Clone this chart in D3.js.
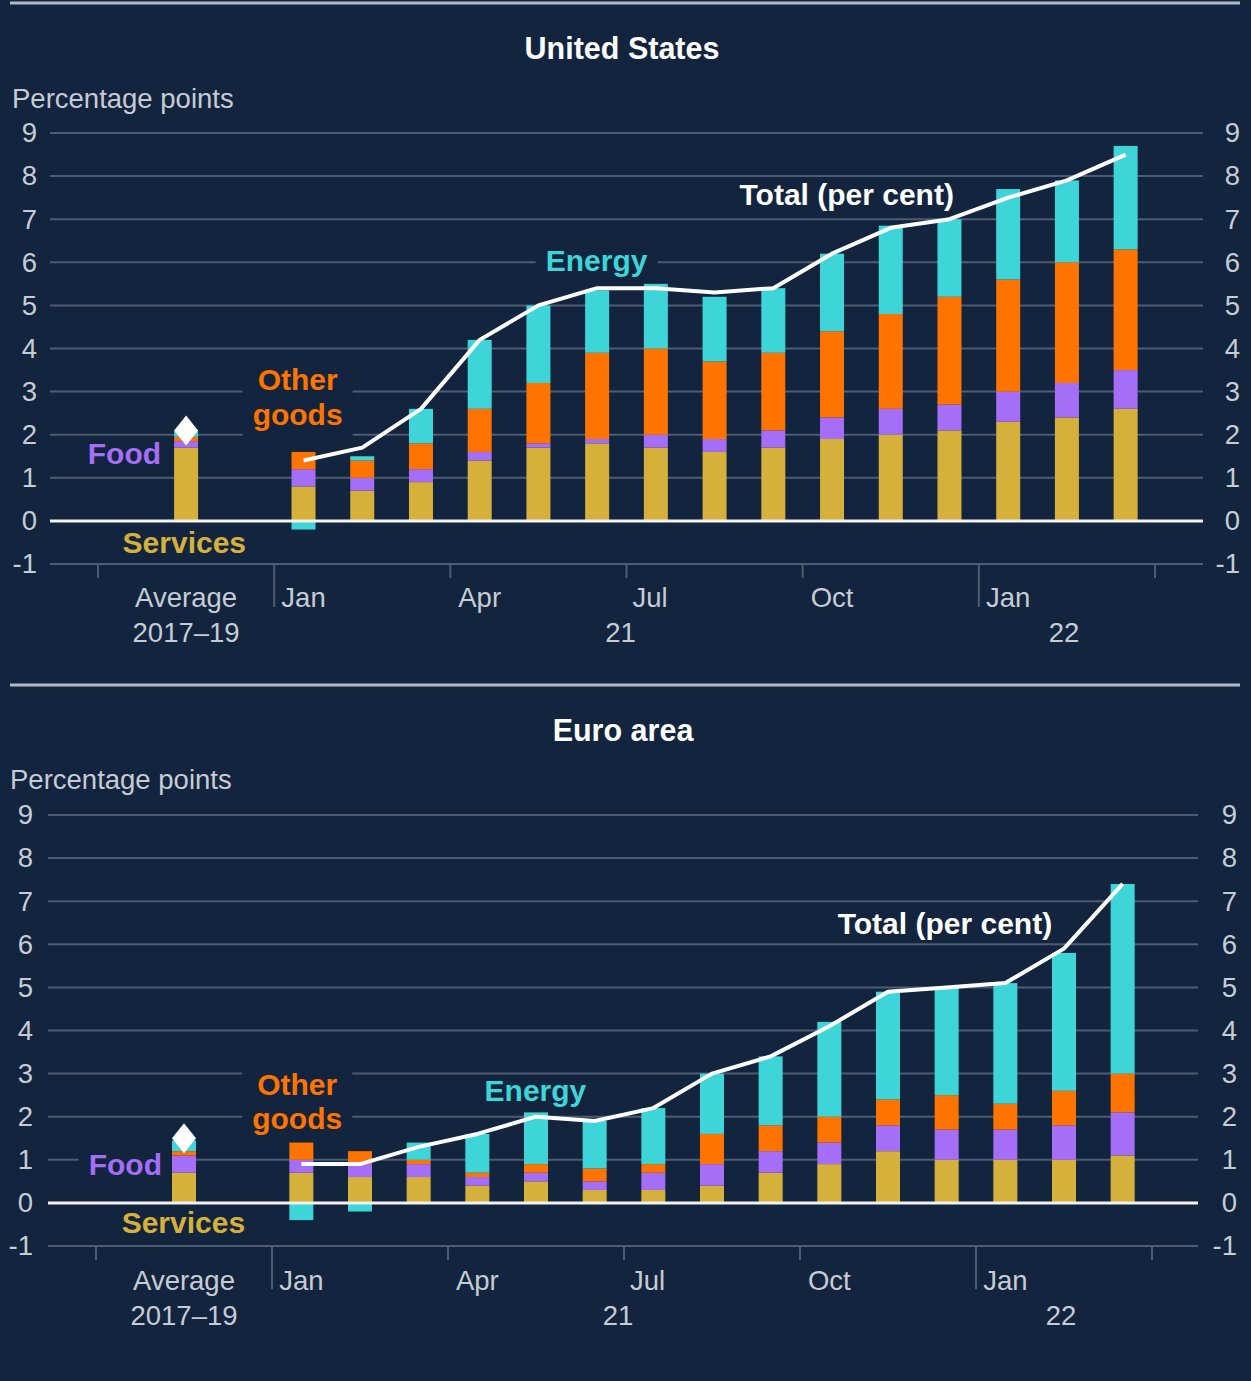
<!DOCTYPE html>
<html>
<head>
<meta charset="utf-8">
<script src="https://cdn.jsdelivr.net/npm/d3@7"></script>
<style>
  body { margin: 0; background: #13243e; }
  text { font-family: "Liberation Sans", Arial, sans-serif; }
</style>
</head>
<body>
<svg id="chart" width="1251" height="1381"></svg>
<script>
// categories: index 0..14 = Jan 2021 .. Mar 2022, the average bar sits at index -2
var keys = ["services", "food", "other", "energy"];
var months = ["Jan","Feb","Mar","Apr","May","Jun","Jul","Aug","Sep","Oct","Nov","Dec","Jan","Feb","Mar"];
var yTicks = [-1, 0, 1, 2, 3, 4, 5, 6, 7, 8, 9];

// United States (percentage points)
var usServices = [0.8, 0.7, 0.9, 1.4, 1.7, 1.8, 1.7, 1.6, 1.7, 1.9, 2.0, 2.1, 2.3, 2.4, 2.6];
var usFood     = [0.4, 0.3, 0.3, 0.2, 0.1, 0.1, 0.3, 0.3, 0.4, 0.5, 0.6, 0.6, 0.7, 0.8, 0.9];
var usOther    = [0.4, 0.4, 0.6, 1.0, 1.4, 2.0, 2.0, 1.8, 1.8, 2.0, 2.2, 2.5, 2.6, 2.8, 2.8];
var usEnergy   = [-0.2, 0.1, 0.8, 1.6, 1.8, 1.45, 1.5, 1.5, 1.5, 1.8, 2.05, 1.8, 2.1, 1.9, 2.4];
var usTotal    = [1.4, 1.7, 2.6, 4.2, 5.0, 5.4, 5.4, 5.3, 5.4, 6.2, 6.8, 7.0, 7.5, 7.9, 8.5];
var usAvg      = [1.7, 0.15, 0.1, 0.15];
var usAvgTotal = 2.1;

// Euro area (percentage points)
var euServices = [0.7, 0.6, 0.6, 0.4, 0.5, 0.3, 0.3, 0.4, 0.7, 0.9, 1.2, 1.0, 1.0, 1.0, 1.1];
var euFood     = [0.3, 0.3, 0.3, 0.2, 0.2, 0.2, 0.4, 0.5, 0.5, 0.5, 0.6, 0.7, 0.7, 0.8, 1.0];
var euOther    = [0.4, 0.3, 0.1, 0.1, 0.2, 0.3, 0.2, 0.7, 0.6, 0.6, 0.6, 0.8, 0.6, 0.8, 0.9];
var euEnergy   = [-0.4, -0.2, 0.4, 0.9, 1.2, 1.1, 1.3, 1.4, 1.6, 2.2, 2.5, 2.5, 2.8, 3.2, 4.4];
var euTotal    = [0.9, 0.9, 1.3, 1.6, 2.0, 1.9, 2.2, 3.0, 3.4, 4.1, 4.9, 5.0, 5.1, 5.9, 7.4];
var euAvg      = [0.7, 0.4, 0.1, 0.25];
var euAvgTotal = 1.5;

// x axis text
var monthTicks = [{i: 0, t: "Jan"}, {i: 3, t: "Apr"}, {i: 5.9, t: "Jul"}, {i: 9, t: "Oct"}, {i: 12, t: "Jan"}];
var yearLabels = [{i: 5.4, t: "21"}, {i: 12.95, t: "22"}];
var tickMarks = [-3.5, -0.5, 2.5, 5.5, 8.5, 11.5, 14.5];
var longTicks = [-0.5, 11.5];

var colors = {services: "#d5b13b", food: "#a46ef6", other: "#ff7400", energy: "#3dd5d8"};
var gridColor = "#4d5c72";
var axisText = "#c6ccd4";
var axisSize = 27.5;
var bg = "#13243e";

var svg = d3.select("#chart");
svg.append("rect").attr("width", 1251).attr("height", 1381).attr("fill", bg);

function drawPanel(p){
    var g = svg.append("g");
    var x = d3.scaleLinear().domain([-3.5, 14.5]).range(p.xRange);
    var y = d3.scaleLinear().domain([-1, 9]).range(p.yRange);

    // separator on top
    g.append("line")
        .attr("x1", 10).attr("x2", 1240)
        .attr("y1", p.sepY).attr("y2", p.sepY)
        .attr("stroke", "#b2bac4").attr("stroke-width", 3);

    g.append("text")
        .attr("x", p.titleX).attr("y", p.titleY)
        .attr("text-anchor", "middle")
        .attr("fill", "#ffffff").attr("font-weight", "bold").attr("font-size", 30.5)
        .text(p.title);

    g.append("text")
        .attr("x", p.unitX).attr("y", p.unitY)
        .attr("fill", axisText).attr("font-size", axisSize)
        .text("Percentage points");

    // grid lines
    g.selectAll(".grid").data(yTicks.filter(function(d){ return d !== 0; }))
        .enter().append("line")
        .attr("x1", p.gridX[0]).attr("x2", p.gridX[1])
        .attr("y1", function(d){ return y(d); }).attr("y2", function(d){ return y(d); })
        .attr("stroke", gridColor).attr("stroke-width", 2);

    // ticks on the bottom line
    g.selectAll(".xtick").data(tickMarks)
        .enter().append("line")
        .attr("x1", function(d){ return x(d); }).attr("x2", function(d){ return x(d); })
        .attr("y1", y(-1))
        .attr("y2", function(d){ return longTicks.indexOf(d) >= 0 ? y(-1) + 43 : y(-1) + 14; })
        .attr("stroke", gridColor).attr("stroke-width", 2);

    // y labels, both sides
    [p.leftX, p.rightX].forEach(function(lx){
        var ax = g.append("g")
            .attr("transform", "translate(" + lx + ",0)")
            .call(d3.axisLeft(y).tickValues(yTicks).tickSize(0).tickPadding(0)
                .tickFormat(function(d){ return String(d); }));
        ax.select(".domain").remove();
        ax.selectAll("text").attr("fill", axisText).attr("font-size", axisSize)
            .attr("font-family", "Liberation Sans, Arial, sans-serif");
    });

    // x labels
    g.selectAll(".mlab").data(monthTicks)
        .enter().append("text")
        .attr("x", function(d){ return x(d.i); }).attr("y", p.xLabY[0])
        .attr("text-anchor", "middle").attr("fill", axisText).attr("font-size", axisSize)
        .text(function(d){ return d.t; });
    g.selectAll(".ylab").data(yearLabels)
        .enter().append("text")
        .attr("x", function(d){ return x(d.i); }).attr("y", p.xLabY[1])
        .attr("text-anchor", "middle").attr("fill", axisText).attr("font-size", axisSize)
        .text(function(d){ return d.t; });
    g.append("text").attr("x", x(-2)).attr("y", p.xLabY[0])
        .attr("text-anchor", "middle").attr("fill", axisText).attr("font-size", axisSize)
        .text("Average");
    g.append("text").attr("x", x(-2)).attr("y", p.xLabY[1])
        .attr("text-anchor", "middle").attr("fill", axisText).attr("font-size", axisSize)
        .text("2017\u201319");

    // stacked bars
    var rows = months.map(function(m, i){
        return {i: i, services: p.services[i], food: p.food[i], other: p.other[i], energy: p.energy[i]};
    });
    rows.unshift({i: -2, services: p.avg[0], food: p.avg[1], other: p.avg[2], energy: p.avg[3]});
    var series = d3.stack().keys(keys).offset(d3.stackOffsetDiverging)(rows);
    var bw = 24;

    var labelLayer = g.append("g");

    g.selectAll(".series").data(series)
        .enter().append("g")
        .attr("fill", function(s){ return colors[s.key]; })
        .selectAll("rect").data(function(s){ return s; })
        .enter().append("rect")
        .attr("x", function(d){ return x(d.data.i) - bw / 2; })
        .attr("width", bw)
        .attr("y", function(d){ return y(Math.max(d[0], d[1])); })
        .attr("height", function(d){ return Math.abs(y(d[0]) - y(d[1])); });

    // zero line
    g.append("line")
        .attr("x1", p.gridX[0]).attr("x2", p.gridX[1])
        .attr("y1", y(0)).attr("y2", y(0))
        .attr("stroke", "#f2f2f2").attr("stroke-width", 3);

    // total line
    var line = d3.line()
        .x(function(d, i){ return x(i); })
        .y(function(d){ return y(d); });
    g.append("path").datum(p.total)
        .attr("d", line)
        .attr("fill", "none").attr("stroke", "#ffffff")
        .attr("stroke-width", 4).attr("stroke-linejoin", "round");

    // average total marker
    g.append("path")
        .attr("transform", "translate(" + x(-2) + "," + y(p.avgTotal) + ")")
        .attr("d", "M0,-15L12,0L0,15L-12,0Z")
        .attr("fill", "#ffffff");

    // in-chart labels
    p.labels.forEach(function(l){
        var t = labelLayer.append("text")
            .attr("text-anchor", "middle")
            .attr("fill", l.color).attr("font-weight", "bold").attr("font-size", 30);
        l.lines.forEach(function(s, k){
            t.append("tspan").attr("x", x(l.i)).attr("y", y(l.v[k])).text(s);
        });
        if(l.knock){
            var b = t.node().getBBox();
            labelLayer.insert("rect", "text")
                .attr("x", b.x - 10).attr("y", b.y - 2)
                .attr("width", b.width + 20).attr("height", b.height + 8)
                .attr("fill", bg);
        }
    });
    labelLayer.raise();
}

drawPanel({
    title: "United States", titleX: 622, titleY: 59,
    unitX: 12, unitY: 108, sepY: 3,
    xRange: [98, 1155], yRange: [564, 133], gridX: [50, 1203],
    leftX: 37, rightX: 1240, xLabY: [607, 642],
    services: usServices, food: usFood, other: usOther, energy: usEnergy,
    total: usTotal, avg: usAvg, avgTotal: usAvgTotal,
    labels: [
        {lines: ["Other", "goods"], i: -0.1, v: [3.04, 2.23], color: colors.other, knock: true},
        {lines: ["Food"], i: -3.05, v: [1.32], color: colors.food, knock: false},
        {lines: ["Services"], i: -2.03, v: [-0.74], color: colors.services, knock: false},
        {lines: ["Energy"], i: 4.99, v: [5.8], color: colors.energy, knock: true},
        {lines: ["Total (per cent)"], i: 9.25, v: [7.33], color: "#ffffff", knock: false}
    ]
});

drawPanel({
    title: "Euro area", titleX: 623, titleY: 741,
    unitX: 10, unitY: 789, sepY: 685,
    xRange: [96, 1152], yRange: [1246, 815], gridX: [48, 1198],
    leftX: 33, rightX: 1237, xLabY: [1290, 1325],
    services: euServices, food: euFood, other: euOther, energy: euEnergy,
    total: euTotal, avg: euAvg, avgTotal: euAvgTotal,
    labels: [
        {lines: ["Other", "goods"], i: -0.07, v: [2.5, 1.72], color: colors.other, knock: true},
        {lines: ["Food"], i: -3.0, v: [0.65], color: colors.food, knock: true},
        {lines: ["Services"], i: -2.01, v: [-0.7], color: colors.services, knock: false},
        {lines: ["Energy"], i: 3.99, v: [2.37], color: colors.energy, knock: false},
        {lines: ["Total (per cent)"], i: 10.97, v: [6.24], color: "#ffffff", knock: false}
    ]
});
</script>
</body>
</html>
